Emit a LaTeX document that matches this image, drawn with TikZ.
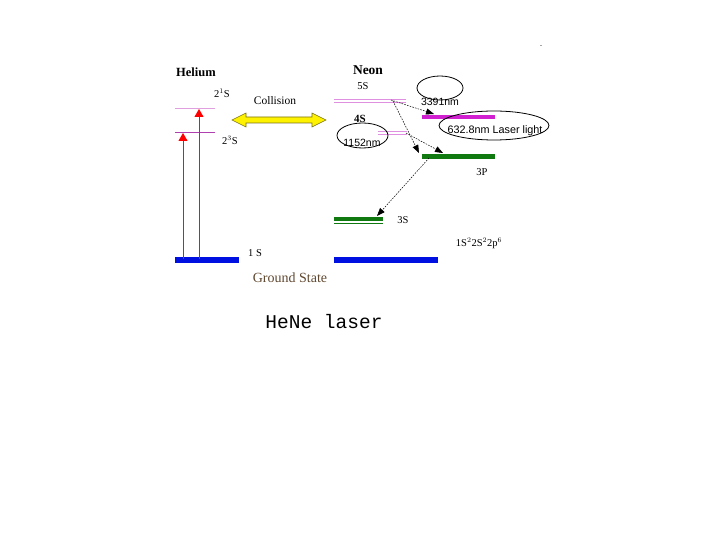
\documentclass[tikz,border=0pt]{standalone}
\usepackage{fontspec}
\setmainfont{Liberation Serif}
\newfontfamily\arialfont{Liberation Sans}
\newfontfamily\courfont{Liberation Mono}
\usetikzlibrary{arrows.meta}
\definecolor{hepink}{HTML}{E0A0E0}
\definecolor{hepurple}{HTML}{B040B0}
\definecolor{nepink}{HTML}{E090E0}
\definecolor{lvblue}{HTML}{0010E0}
\definecolor{lvgreen}{HTML}{107A10}
\definecolor{lvmag}{HTML}{D020D0}
\definecolor{exred}{HTML}{C02050}
\definecolor{gsbrown}{HTML}{604830}
\tikzset{
  lbl/.style={inner sep=0pt, font=\fontsize{10.5}{12}\selectfont},
  bold/.style={inner sep=0pt, font=\fontsize{12.5}{14}\selectfont\bfseries},
  bar/.style={line width=6pt},
  thinlvl/.style={line width=0.8pt},
  excite/.style={exred, line width=0.9pt, -{Triangle[length=8pt,width=9pt,color=red]}},
  decay/.style={black, line width=0.5pt, dash pattern=on 1.6pt off 1.2pt, -{Triangle[length=8pt,width=6pt]}},
  ring/.style={draw=black, line width=0.8pt, fill=none},
  wave/.style={inner sep=0pt, font=\arialfont\fontsize{10.5}{12}\selectfont}
}
\begin{document}
\begin{tikzpicture}[x=1pt,y=-1pt]
\useasboundingbox (0,0) rectangle (720,540);
% ---------- Helium ----------
\node[bold] (helium) at (196,72) {Helium};
\node[lbl] (he21s) at (222,93) {2$^1$S};
\node[lbl] (he23s) at (230,140) {2$^3$S};
\coordinate (h1a) at (175,108); \coordinate (h1b) at (215,108);
\coordinate (h3a) at (175,132); \coordinate (h3b) at (215,132);
\draw[hepink, thinlvl] (h1a) -- (h1b);
\draw[hepurple, thinlvl] (h3a) -- (h3b);
\coordinate (hga) at (175,259.5); \coordinate (hgb) at (239,259.5);
\draw[lvblue, bar] (hga) -- (hgb);
\coordinate (ex1s) at (183,259); \coordinate (ex1e) at (183,133);
\coordinate (ex2s) at (199,259); \coordinate (ex2e) at (199,109);
\draw[excite] (ex1s) -- (ex1e);
\draw[excite] (ex2s) -- (ex2e);
\node[lbl] (he1s) at (255,253) {1 S};
\node[inner sep=0pt, font=\fontsize{14}{16}\selectfont, text=gsbrown] (gs) at (290,278) {Ground State};
% ---------- Collision ----------
\node[inner sep=0pt, font=\fontsize{11.5}{13}\selectfont] (coll) at (275,101) {Collision};
\draw[fill=yellow, draw=olive!80!black, line width=0.6pt]
  (232,120) -- (246,113) -- (246,117) -- (312,117) -- (312,113) -- (326,120)
  -- (312,127) -- (312,123) -- (246,123) -- (246,127) -- cycle;
% ---------- Neon ----------
\node[inner sep=0pt, font=\fontsize{13.5}{15}\selectfont\bfseries] (neon) at (368,70) {Neon};
\node[lbl] (ne5s) at (363,86) {5S};
\node[inner sep=0pt, font=\fontsize{11}{12}\selectfont\bfseries] (ne4s) at (360,119) {4S};
\coordinate (n5a) at (334,99); \coordinate (n5b) at (406,99);
\coordinate (n5c) at (334,102); \coordinate (n5d) at (406,102);
\draw[nepink, thinlvl] (n5a) -- (n5b);
\draw[nepink, thinlvl] (n5c) -- (n5d);
\coordinate (n4a) at (378,131); \coordinate (n4b) at (407,131);
\coordinate (n4c) at (378,134); \coordinate (n4d) at (407,134);
\draw[nepink, thinlvl] (n4a) -- (n4b);
\draw[nepink, thinlvl] (n4c) -- (n4d);
% 4P (magenta) and 3P (green)
\coordinate (n4pa) at (422,117); \coordinate (n4pb) at (495,117);
\draw[lvmag, line width=4.5pt] (n4pa) -- (n4pb);
\coordinate (n3pa) at (422,156.5); \coordinate (n3pb) at (495,156.5);
\draw[lvgreen, line width=5pt] (n3pa) -- (n3pb);
\node[lbl] (ne3p) at (482,172) {3P};
% 3S
\coordinate (n3sa) at (334,219); \coordinate (n3sb) at (383,219);
\draw[lvgreen, line width=4.5pt] (n3sa) -- (n3sb);
\coordinate (n3sc) at (334,223.3); \coordinate (n3sd) at (383,223.3);
\draw[lvgreen, line width=0.8pt] (n3sc) -- (n3sd);
\node[lbl] (ne3s) at (403,220) {3S};
% ground
\coordinate (nga) at (334,259.5); \coordinate (ngb) at (438,259.5);
\draw[lvblue, bar] (nga) -- (ngb);
\node[lbl] (negs) at (479,243) {1S$^2$2S$^2$2p$^6$};
% transitions
\coordinate (t1s) at (391,100); \coordinate (t1e) at (434,114);
\coordinate (t2s) at (393,101); \coordinate (t2e) at (419,153);
\coordinate (t3s) at (406,133); \coordinate (t3e) at (443,153);
\coordinate (t4s) at (429,158); \coordinate (t4e) at (377,216);
\draw[decay] (t1s) -- (t1e);
\draw[decay] (t2s) -- (t2e);
\draw[decay] (t3s) -- (t3e);
\draw[decay] (t4s) -- (t4e);
% wavelength labels and ellipses
\node[wave] (w3391) at (440,102) {3391nm};
\draw[ring] (440,88) ellipse [x radius=23, y radius=12];
\node[wave] (w1152) at (362,143) {1152nm};
\draw[ring] (362.5,135.5) ellipse [x radius=25.5, y radius=12.5];
\node[inner sep=0pt, font=\arialfont\fontsize{10.8}{12}\selectfont] (w632) at (495,131) {632.8nm Laser light};
\draw[ring] (494,125.5) ellipse [x radius=55, y radius=14.5];
% ---------- title ----------
\node[inner sep=0pt, font=\courfont\fontsize{19.5}{22}\selectfont] (title) at (324,322) {HeNe laser};
\node[inner sep=0pt, font=\fontsize{6}{7}\selectfont] (dot) at (541,47) {-};
\end{tikzpicture}
\end{document}
